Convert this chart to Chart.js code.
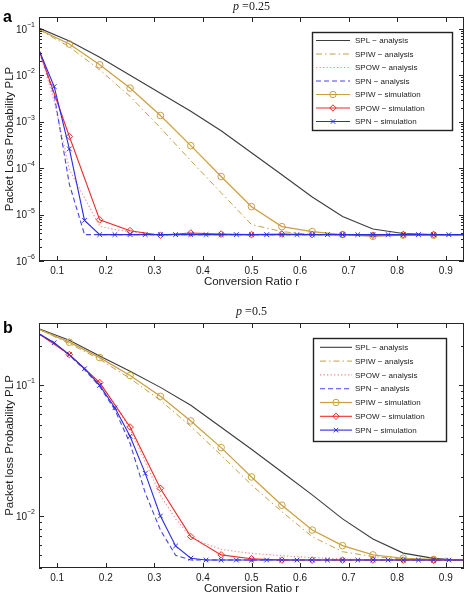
<!DOCTYPE html>
<html>
<head>
<meta charset="utf-8">
<title>Packet loss probability vs conversion ratio</title>
<script src="https://cdn.jsdelivr.net/npm/chart.js@4.4.1/dist/chart.umd.min.js"></script>
<style>
  html, body { margin: 0; padding: 0; background: #fff; }
  .panel { position: absolute; left: 0; width: 470px; }
  #panelA { top: 0; height: 292px; }
  #panelB { top: 292px; height: 303px; }
</style>
</head>
<body>
<div class="panel" id="panelA"><canvas id="chartA"></canvas></div>
<div class="panel" id="panelB"><canvas id="chartB"></canvas></div>
<script>
// conversion ratio grids (steps of 1/16 and 1/32)
const r16 = [0.0625, 0.125, 0.1875, 0.25, 0.3125, 0.375, 0.4375, 0.5, 0.5625, 0.625, 0.6875, 0.75, 0.8125, 0.875, 0.9375];
const r32 = [0.0625, 0.09375, 0.125, 0.15625, 0.1875, 0.21875, 0.25, 0.28125, 0.3125, 0.34375, 0.375, 0.40625, 0.4375, 0.46875,
             0.5, 0.53125, 0.5625, 0.59375, 0.625, 0.65625, 0.6875, 0.71875, 0.75, 0.78125, 0.8125, 0.84375, 0.875, 0.90625, 0.9375];

const xTickValues = [0.1, 0.2, 0.3, 0.4, 0.5, 0.6, 0.7, 0.8, 0.9];

const seriesNames = ['SPL − analysis', 'SPIW − analysis', 'SPOW − analysis', 'SPN − analysis',
                     'SPIW − simulation', 'SPOW − simulation', 'SPN − simulation'];

// (a) p = 0.25
const a_spl = [0.104, 0.055, 0.0244, 0.01, 0.0041, 1.68e-3, 6.4e-4, 2.15e-4, 7.2e-5, 2.39e-5, 9.1e-6, 4.9e-6, 3.9e-6, 3.7e-6, 3.7e-6];
const a_spiw = [0.097, 0.041, 0.0131, 0.0035, 7.4e-4, 1.45e-4, 2.95e-5, 6.1e-6, 4.3e-6, 3.7e-6, 3.7e-6, 3.7e-6, 3.7e-6, 3.7e-6, 3.7e-6];
const a_spow = [0.035, 0.0028, 9.3e-5, 2.3e-5, 5.6e-6, 4.8e-6, 4.2e-6, 3.9e-6, 3.7e-6, 3.7e-6, 3.7e-6, 3.7e-6, 3.7e-6, 3.7e-6,
                3.7e-6, 3.7e-6, 3.7e-6, 3.7e-6, 3.7e-6, 3.7e-6, 3.7e-6, 3.7e-6, 3.7e-6, 3.7e-6, 3.7e-6, 3.7e-6, 3.7e-6, 3.7e-6, 3.7e-6];
const a_spn = [0.035, 0.0038, 4.5e-5, 3.7e-6, 3.7e-6, 3.7e-6, 3.7e-6, 3.7e-6, 3.7e-6, 3.7e-6, 3.7e-6, 3.7e-6, 3.7e-6, 3.7e-6,
               3.7e-6, 3.7e-6, 3.7e-6, 3.7e-6, 3.7e-6, 3.7e-6, 3.7e-6, 3.7e-6, 3.7e-6, 3.7e-6, 3.7e-6, 3.7e-6, 3.7e-6, 3.7e-6, 3.7e-6];
const a_spiwSim = [0.097, 0.047, 0.0168, 0.0053, 1.36e-3, 3.05e-4, 6.6e-5, 1.48e-5, 5.5e-6, 4.3e-6, 3.7e-6, 3.4e-6, 3.6e-6, 3.6e-6, 3.7e-6];
const a_spowSim = [0.035, 4.8e-4, 7.7e-6, 4.5e-6, 3.6e-6, 4.0e-6, 3.8e-6, 3.7e-6, 3.8e-6, 3.7e-6, 3.7e-6, 3.6e-6, 3.7e-6, 3.7e-6, 3.7e-6];
const a_spnSim = [0.035, 0.0057, 2.6e-4, 7.5e-6, 3.7e-6, 3.7e-6, 3.7e-6, 3.7e-6, 3.7e-6, 3.7e-6, 3.7e-6, 3.7e-6, 3.7e-6, 3.7e-6,
                  3.7e-6, 3.7e-6, 3.7e-6, 3.7e-6, 3.7e-6, 3.7e-6, 3.7e-6, 3.7e-6, 3.7e-6, 3.7e-6, 3.7e-6, 3.7e-6, 3.7e-6, 3.7e-6, 3.7e-6];

// (b) p = 0.5
const b_spl = [0.271, 0.221, 0.168, 0.128, 0.0965, 0.0704, 0.0478, 0.0324, 0.0217, 0.0145, 0.0095, 0.00667, 0.0052, 0.00474, 0.00456];
const b_spiw = [0.268, 0.209, 0.158, 0.113, 0.0767, 0.0485, 0.0292, 0.0173, 0.0108, 0.00695, 0.00533, 0.00489, 0.00468, 0.0046, 0.0046];
const b_spow = [0.248, 0.21, 0.17, 0.136, 0.104, 0.072, 0.046, 0.026, 0.0144, 0.0095, 0.0069, 0.0061, 0.00557, 0.00535,
                0.00518, 0.00507, 0.00497, 0.00489, 0.00481, 0.00475, 0.0047, 0.00465, 0.0046, 0.0046, 0.0046, 0.0046, 0.0046, 0.0046, 0.0046];
const b_spn = [0.248, 0.21, 0.17, 0.132, 0.098, 0.065, 0.036, 0.015, 0.0078, 0.005, 0.0046, 0.0046, 0.0046, 0.0046,
               0.0046, 0.0046, 0.0046, 0.0046, 0.0046, 0.0046, 0.0046, 0.0046, 0.0046, 0.0046, 0.0046, 0.0046, 0.0046, 0.0046, 0.0046];
const b_spiwSim = [0.268, 0.214, 0.163, 0.119, 0.0824, 0.0534, 0.0334, 0.0199, 0.0121, 0.00781, 0.00593, 0.00504, 0.00475, 0.00465, 0.0046];
const b_spowSim = [0.248, 0.172, 0.105, 0.048, 0.01626, 0.00695, 0.00504, 0.00471, 0.0046, 0.0046, 0.0046, 0.0046, 0.0046, 0.0046, 0.0046];
const b_spnSim = [0.248, 0.212, 0.172, 0.134, 0.1, 0.0673, 0.0408, 0.0212, 0.01, 0.0059, 0.00475, 0.0046, 0.0046, 0.0046,
                  0.0046, 0.0046, 0.0046, 0.0046, 0.0046, 0.0046, 0.0046, 0.0046, 0.0046, 0.0046, 0.0046, 0.0046, 0.0046, 0.0046, 0.0046];

const FONT = "'Liberation Sans', Arial, Helvetica, sans-serif";
Chart.defaults.font.family = FONT;
Chart.defaults.color = '#1a1a1a';

// line look of each series, same order as seriesNames
const looks = [
  { xs: r16, color: '#3c3c3c', width: 1.1, dash: [], marker: null, order: 6 },
  { xs: r16, color: '#bfa04a', width: 1, dash: [6, 3, 1.5, 3], marker: null, order: 5 },
  { xs: r32, color: '#ef8a8a', width: 1.1, dash: [1.3, 2.2], marker: null, order: 4 },
  { xs: r32, color: '#4646e6', width: 1.1, dash: [5, 3], marker: null, order: 3 },
  { xs: r16, color: '#c9a040', width: 1.2, dash: [], marker: 'circle', order: 2 },
  { xs: r16, color: '#ec2b2b', width: 1.1, dash: [], marker: 'rectRot', order: 1 },
  { xs: r32, color: '#2b2be6', width: 1.1, dash: [], marker: 'crossRot', order: 0 }
];

function buildDatasets(series) {
  return series.map((vals, i) => {
    const lk = looks[i];
    return {
      label: seriesNames[i],
      data: lk.xs.map((x, k) => ({ x: x, y: vals[k] })),
      borderColor: lk.color,
      backgroundColor: 'rgba(0,0,0,0)',
      borderWidth: lk.width,
      borderDash: lk.dash,
      pointStyle: lk.marker || 'circle',
      pointRadius: lk.marker ? (c => (c.dataIndex === 0 || c.dataIndex === lk.xs.length - 1) ? 0 : 3.3) : 0,
      pointBorderWidth: 1,
      pointBorderColor: lk.color,
      pointBackgroundColor: 'rgba(0,0,0,0)',
      tension: 0,
      order: lk.order,
      fill: false
    };
  });
}

function logTicks(decades, min, max) {
  const out = [];
  decades.forEach(d => {
    for (let k = 1; k <= 9; k++) {
      const v = d * k;
      if (v >= min * 0.9999 && v <= max * 1.0001) out.push(v);
    }
  });
  return out;
}

// frame, inward ticks, 10^n labels, title, panel letter and legend box
const matlabLook = {
  id: 'matlabLook',
  afterDraw(chart, args, o) {
    const ctx = chart.ctx, a = chart.chartArea;
    const xs = chart.scales.x, ys = chart.scales.y;
    ctx.save();
    ctx.strokeStyle = '#262626';
    ctx.lineWidth = 1;
    ctx.setLineDash([]);
    ctx.strokeRect(a.left + 0.5, a.top + 0.5, a.width - 1, a.height - 1);
    ctx.beginPath();
    xs.ticks.forEach(t => {
      const px = Math.round(xs.getPixelForValue(t.value)) + 0.5;
      ctx.moveTo(px, a.bottom); ctx.lineTo(px, a.bottom - 5);
      ctx.moveTo(px, a.top); ctx.lineTo(px, a.top + 5);
    });
    ys.ticks.forEach(t => {
      const major = o.yMajor.some(m => Math.abs(m - t.value) < m * 1e-6);
      const len = major ? 5 : 3;
      const py = Math.round(ys.getPixelForValue(t.value)) + 0.5;
      ctx.moveTo(a.left, py); ctx.lineTo(a.left + len, py);
      ctx.moveTo(a.right, py); ctx.lineTo(a.right - len, py);
    });
    ctx.stroke();

    // y tick labels as 10 with raised exponent
    ctx.fillStyle = '#1a1a1a';
    ctx.textBaseline = 'middle';
    ctx.textAlign = 'right';
    o.yMajor.forEach(v => {
      const py = ys.getPixelForValue(v);
      const exp = String(Math.round(Math.log10(v))).replace('-', '−');
      const right = a.left - 4;
      ctx.font = '7px ' + FONT;
      ctx.fillText(exp, right, py - 4);
      const ew = ctx.measureText(exp).width;
      ctx.font = '10px ' + FONT;
      ctx.fillText('10', right - ew, py + 1);
    });

    // title  p = ...
    const cx = (a.left + a.right) / 2;
    ctx.textAlign = 'left';
    ctx.font = 'italic 12px "Liberation Serif", "Times New Roman", serif';
    const pw = ctx.measureText('p').width;
    ctx.font = '12px "Liberation Serif", "Times New Roman", serif';
    const rest = ' =' + o.pValue;
    const rw = ctx.measureText(rest).width;
    const tx = cx - (pw + rw) / 2;
    ctx.fillText(rest, tx + pw, o.titleY);
    ctx.font = 'italic 12px "Liberation Serif", "Times New Roman", serif';
    ctx.fillText('p', tx, o.titleY);

    // panel letter
    ctx.font = 'bold 16px ' + FONT;
    ctx.fillStyle = '#000';
    ctx.fillText(o.letter, 3, o.letterY);

    // legend box inside the axes
    const L = o.legend;
    const bx = Math.round(a.right - L.right - L.w), by = Math.round(a.top + L.top);
    ctx.fillStyle = '#fff';
    ctx.fillRect(bx, by, L.w, L.h);
    ctx.strokeStyle = '#222';
    ctx.lineWidth = 1.4;
    ctx.strokeRect(bx + 0.5, by + 0.5, L.w, L.h);
    chart.data.datasets.forEach((ds, i) => {
      const yy = by + L.first + i * L.rowH;
      const x0 = bx + L.x0, x1 = bx + L.x1;
      ctx.strokeStyle = ds.borderColor;
      ctx.lineWidth = ds.borderWidth;
      ctx.setLineDash(ds.borderDash);
      ctx.beginPath();
      ctx.moveTo(x0, yy); ctx.lineTo(x1, yy);
      ctx.stroke();
      ctx.setLineDash([]);
      if (looks[i].marker) {
        ctx.fillStyle = 'rgba(0,0,0,0)';
        ctx.strokeStyle = ds.borderColor;
        ctx.lineWidth = 1;
        Chart.helpers.drawPoint(ctx, { pointStyle: looks[i].marker, radius: 3.2, borderWidth: 1, rotation: 0 }, (x0 + x1) / 2, yy);
      }
      ctx.fillStyle = '#222';
      ctx.font = '8px ' + FONT;
      ctx.textAlign = 'left';
      ctx.textBaseline = 'middle';
      ctx.fillText(ds.label, bx + L.text, yy + 0.5);
    });
    ctx.restore();
  }
};

function makeChart(id, cfg) {
  const yTicks = logTicks(cfg.decades, cfg.yMin, cfg.yMax);
  return new Chart(document.getElementById(id), {
    type: 'line',
    data: { datasets: buildDatasets(cfg.series) },
    plugins: [matlabLook],
    options: {
      responsive: true,
      maintainAspectRatio: false,
      animation: false,
      layout: { padding: { top: cfg.padTop, right: 6, left: 0, bottom: 0 } },
      plugins: {
        legend: { display: false },
        tooltip: { enabled: false },
        matlabLook: cfg.look
      },
      scales: {
        x: {
          type: 'linear',
          min: 0.0625,
          max: 0.9375,
          afterBuildTicks: s => { s.ticks = xTickValues.map(v => ({ value: v })); },
          afterFit: s => { s.height = cfg.xHeight; },
          grid: { display: false, drawTicks: false },
          border: { display: false },
          ticks: { font: { size: 10 }, padding: 4, maxRotation: 0, autoSkip: false, callback: v => v.toFixed(1) },
          title: { display: true, text: 'Conversion Ratio r', font: { size: 11.5, lineHeight: 1 }, padding: { top: 0, bottom: cfg.xTitlePad } }
        },
        y: {
          type: 'logarithmic',
          min: cfg.yMin,
          max: cfg.yMax,
          afterBuildTicks: s => { s.ticks = yTicks.map(v => ({ value: v })); },
          afterFit: s => { s.width = 39; },
          grid: { display: false, drawTicks: false },
          border: { display: false },
          ticks: { display: false },
          title: { display: true, text: cfg.yTitle, font: { size: 11.5 }, padding: { top: 3, bottom: 0 } }
        }
      }
    }
  });
}

makeChart('chartA', {
  series: [a_spl, a_spiw, a_spow, a_spn, a_spiwSim, a_spowSim, a_spnSim],
  yMin: 1e-6, yMax: 0.18,
  decades: [1e-6, 1e-5, 1e-4, 1e-3, 1e-2, 1e-1],
  yTitle: 'Packet Loss Probability PLP',
  padTop: 17, xHeight: 31, xTitlePad: 4,
  look: {
    yMajor: [1e-6, 1e-5, 1e-4, 1e-3, 1e-2, 1e-1],
    pValue: '0.25', titleY: 7, letter: 'a', letterY: 18,
    legend: { right: 12, top: 15, w: 140, h: 98, first: 8.5, rowH: 13.5, x0: 4, x1: 38, text: 43 }
  }
});

makeChart('chartB', {
  series: [b_spl, b_spiw, b_spow, b_spn, b_spiwSim, b_spowSim, b_spnSim],
  yMin: 0.004, yMax: 0.3,
  decades: [1e-3, 1e-2, 1e-1],
  yTitle: 'Packet loss Probability PLP',
  padTop: 31, xHeight: 27, xTitlePad: 0,
  look: {
    yMajor: [1e-2, 1e-1],
    pValue: '0.5', titleY: 20, letter: 'b', letterY: 37,
    legend: { right: 18, top: 15, w: 133, h: 103, first: 9.3, rowH: 13.8, x0: 7, x1: 39, text: 42 }
  }
});
</script>
</body>
</html>
